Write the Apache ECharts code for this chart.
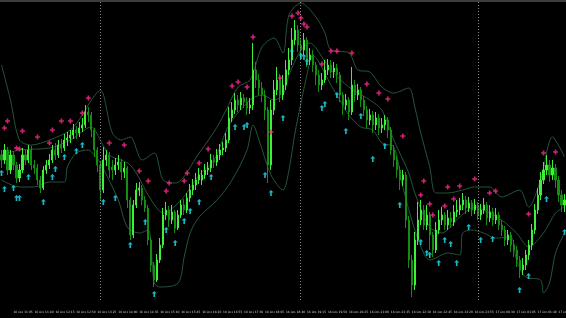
<!DOCTYPE html>
<html><head><meta charset="utf-8">
<script src="https://cdn.jsdelivr.net/npm/echarts@6/dist/echarts.min.js"></script>
<style>html,body{margin:0;padding:0;background:#000;}#c{width:566px;height:318px;}</style>
</head><body><div id="c"></div>
<script>
const opens=[145,140,150,130,145,135,122,130,145,140,
150,135,132,120,112,130,135,140,150,145,
155,152,160,162,165,170,167,172,175,188,
185,170,150,135,110,140,145,133,130,135,
138,128,132,100,65,95,110,112,100,92,
60,35,20,40,55,85,90,80,88,72,
85,95,90,102,110,115,120,120,125,130,
132,140,138,145,150,152,160,182,190,200,
195,202,198,192,195,230,220,212,205,190,
135,190,210,220,205,215,230,240,260,270,
255,250,260,240,245,235,225,215,220,230,
235,228,232,225,205,195,200,188,215,205,
210,200,190,180,185,175,182,172,175,180,
170,150,140,130,120,125,80,40,15,60,
80,90,75,85,65,50,70,80,85,75,
82,78,88,90,95,100,92,97,90,95,
85,90,95,82,88,80,85,75,70,60,
65,55,50,40,30,35,45,55,70,90,
105,120,130,135,125,132,120,105,95];
const highs=[150,156,153,150,149,138,136,152,150,155,
154,140,136,124,134,140,146,155,157,160,
161,166,168,170,176,174,178,182,195,193,
188,172,153,138,153,150,148,140,142,145,
141,138,134,103,100,117,118,115,104,95,
63,38,46,62,92,98,94,95,90,90,
100,101,107,116,121,127,132,130,136,138,
146,145,151,156,158,167,193,198,207,205,
208,206,203,202,257,238,226,218,210,193,
200,220,233,226,225,240,252,272,280,275,
262,267,263,252,250,238,230,227,240,241,
240,238,236,228,208,206,203,233,220,216,
213,204,194,191,189,188,186,182,185,183,
173,155,144,134,130,128,84,45,68,98,
100,95,95,88,68,78,90,93,88,90,
88,95,100,102,107,104,103,100,101,98,
96,102,98,95,92,92,88,80,74,70,
68,60,54,44,42,50,60,76,96,112,
128,138,145,140,140,136,124,110,106];
const lows=[132,136,125,126,130,117,118,127,135,137,
130,126,115,107,110,126,131,137,140,142,
147,149,154,157,161,161,163,168,172,178,
163,143,128,100,107,134,122,120,125,130,
120,122,92,60,62,92,104,95,88,55,
28,13,18,37,52,80,73,76,67,70,
82,85,87,98,105,110,116,115,121,125,
128,132,134,140,145,148,157,178,186,188,
190,192,185,186,190,212,205,198,180,117,
130,185,205,198,200,210,225,235,255,248,
240,245,233,235,228,215,208,210,217,225,
222,222,217,198,185,190,180,185,198,200,
193,184,172,175,167,170,165,167,170,162,
145,133,122,110,114,72,32,3,10,55,
75,70,70,50,43,47,66,75,70,70,
72,74,83,85,90,86,88,84,86,80,
80,86,75,78,74,76,70,64,54,55,
48,43,33,22,25,30,40,50,66,86,
100,116,125,118,120,112,98,88,88];
const closes=[140,150,130,145,135,122,130,145,140,150,
135,132,120,112,130,135,140,150,145,155,
152,160,162,165,170,167,172,175,188,185,
170,150,135,110,140,145,130,130,135,138,
128,132,100,65,95,110,112,100,92,60,
35,20,40,55,85,90,80,88,72,85,
95,90,102,110,115,120,125,125,130,132,
140,138,145,150,152,160,182,190,200,195,
202,198,192,195,230,220,212,205,190,135,
190,210,220,205,215,230,240,260,270,255,
250,260,240,245,235,225,215,220,230,235,
228,232,225,205,195,200,188,215,205,210,
200,190,180,185,175,182,172,175,180,170,
150,140,130,120,125,80,40,15,60,80,
90,75,85,65,50,70,80,85,75,82,
78,88,90,95,100,92,97,90,95,85,
90,95,82,88,80,85,75,70,60,65,
55,50,40,30,35,45,55,70,90,105,
120,130,135,125,132,120,105,95,100];

const tickLabels=["16 Oct 11:05","16 Oct 11:40","16 Oct 12:15","16 Oct 12:50","16 Oct 13:25","16 Oct 14:00","16 Oct 14:35","16 Oct 15:10","16 Oct 15:45","16 Oct 16:20","16 Oct 16:55","16 Oct 17:30","16 Oct 18:05","16 Oct 18:40","16 Oct 19:15","16 Oct 19:50","16 Oct 20:25","16 Oct 21:00","16 Oct 21:35","16 Oct 22:10","16 Oct 22:45","16 Oct 23:20","16 Oct 23:55","17 Oct 00:30","17 Oct 01:05","17 Oct 01:40","17 Oct 02:15"];

const sellSignals=[[1,172],[2,179],[5,152],[6,151],[7,169],[12,163],[16,157],[17,170],[20,179],[23,179],[27,187],[29,202],[36,157],[41,155],[46,129],[49,119],[55,109],[56,117],[61,119],[62,127],[66,137],[69,151],[77,214],[79,218],[82,213],[84,263],[90,168],[93,222],[97,284],[99,287],[100,282],[101,276],[102,273],[107,236],[110,249],[112,249],[117,247],[122,216],[126,207],[129,201],[134,164],[140,105],[141,119],[143,96],[144,85],[148,94],[149,113],[151,101],[153,114],[158,121],[163,107],[165,109],[176,86],[181,147],[185,148]];
const buySignals=[[0,127],[1,111],[4,112],[5,102],[6,102],[9,123],[14,98],[17,123],[18,131],[21,143],[25,149],[27,155],[34,98],[38,102],[43,55],[48,78],[51,6],[55,70],[58,57],[61,79],[63,89],[66,98],[70,123],[78,173],[81,173],[82,175],[88,125],[90,107],[94,182],[97,248],[100,244],[101,243],[102,238],[107,192],[108,196],[112,205],[115,169],[120,184],[124,141],[128,154],[133,95],[140,58],[142,47],[143,45],[146,37],[148,60],[150,56],[152,37],[156,73],[160,60],[164,61],[173,10],[176,24],[182,101],[188,68]];

const upperBand=[[0,235],[3,200],[6,160],[10,155],[16,160],[23,170],[27,185],[30,200],[33,210],[37,167],[40,160],[43,163],[47,140],[51,147],[54,120],[58,117],[66,147],[72,173],[75,190],[79,213],[83,220],[87,253],[91,262],[94,247],[96,285],[100,297],[105,283],[108,267],[110,250],[116,247],[119,230],[123,228],[127,213],[131,207],[136,212],[138,193],[140,167],[143,133],[145,107],[149,107],[154,110],[158,113],[163,113],[167,103],[173,110],[176,93],[180,120],[184,163],[188,143]];
const middleBand=[[0,145],[6,150],[16,152],[23,160],[30,173],[33,160],[36,145],[43,135],[50,100],[54,87],[60,100],[66,125],[71,140],[76,175],[83,200],[87,205],[91,200],[94,205],[96,225],[100,250],[103,257],[105,252],[110,230],[116,213],[123,200],[127,190],[131,160],[136,127],[138,107],[143,73],[147,67],[153,83],[158,93],[163,87],[167,80],[172,67],[176,53],[181,67],[185,87],[188,93]];
const lowerBand=[[0,120],[6,113],[11,113],[16,118],[21,118],[22,133],[25,147],[29,150],[31,145],[33,137],[39,100],[42,73],[46,67],[49,70],[51,17],[53,13],[59,17],[61,43],[63,67],[66,83],[72,100],[77,120],[82,150],[84,175],[86,160],[90,125],[94,110],[96,130],[98,167],[102,225],[104,245],[106,238],[110,215],[113,200],[116,185],[120,173],[124,170],[127,157],[131,153],[134,113],[138,70],[141,47],[143,40],[149,47],[153,45],[154,67],[157,70],[161,67],[165,62],[170,63],[172,40],[175,23],[180,20],[181,7],[183,17],[185,47],[188,67]];
const separators=[32.9,99.7,159.1];

const categories=closes.map((_,i)=>i);
const candles=closes.map((c,i)=>[opens[i],c,lows[i],highs[i]]);
const N=closes.length;
const bandStyle={color:'#25553a',width:1};
const chart=echarts.init(document.getElementById('c'),null,{renderer:'canvas'});
chart.setOption({
  backgroundColor:'#000',
  animation:false,
  grid:{left:0,right:0,top:0,bottom:18,containLabel:false,outerBoundsMode:'none'},
  xAxis:[
    {type:'category',data:categories,boundaryGap:true,
      axisLine:{show:false},axisTick:{show:false},splitLine:{show:false},
      axisLabel:{interval:(i)=>i>=4&&(i-4)%7===0,
        formatter:(v,i)=>{const k=(i-4)/7;return tickLabels[k]||'';},
        align:'left',fontSize:2.95,color:'#d4d4d4',margin:11,fontFamily:'DejaVu Sans',hideOverlap:false}},
    {type:'value',min:-0.5,max:N-0.5,show:false},
    {type:'value',position:'top',min:0,max:1,axisLine:{show:true,lineStyle:{color:'#3c3c3c',width:3}},
      axisTick:{show:false},axisLabel:{show:false},splitLine:{show:false}}
  ],
  yAxis:{type:'value',min:0,max:300,show:false,splitLine:{show:false}},
  series:[
    {type:'line',xAxisIndex:1,data:[],markLine:{silent:true,symbol:'none',label:{show:false},
      lineStyle:{type:[1,2],color:'#8a8a8a',width:1},
      data:separators.map(x=>({xAxis:x}))}},
    {type:'line',xAxisIndex:1,data:upperBand,showSymbol:false,smooth:0.3,lineStyle:bandStyle,z:1},
    {type:'line',xAxisIndex:1,data:middleBand,showSymbol:false,smooth:0.3,lineStyle:bandStyle,z:1},
    {type:'line',xAxisIndex:1,data:lowerBand,showSymbol:false,smooth:0.3,lineStyle:bandStyle,z:1},
    {type:'candlestick',data:candles,barWidth:1.6,z:2,
      itemStyle:{color:'#3ef03a',color0:'#138e13',borderColor:'#3ef03a',borderColor0:'#138e13',borderWidth:1}},
    {type:'scatter',xAxisIndex:1,data:sellSignals,z:5,
      symbol:'path://M2,0H4V2H6V4H4V6H2V4H0V2H2Z',symbolSize:[5,5],
      itemStyle:{color:'#ff2a8c'}},
    {type:'scatter',xAxisIndex:1,data:buySignals,z:5,
      symbol:'path://M3,0L6,3H4V7H2V3H0Z',symbolSize:[5,6],
      itemStyle:{color:'#22e3f2'}}
  ]
});
</script></body></html>
